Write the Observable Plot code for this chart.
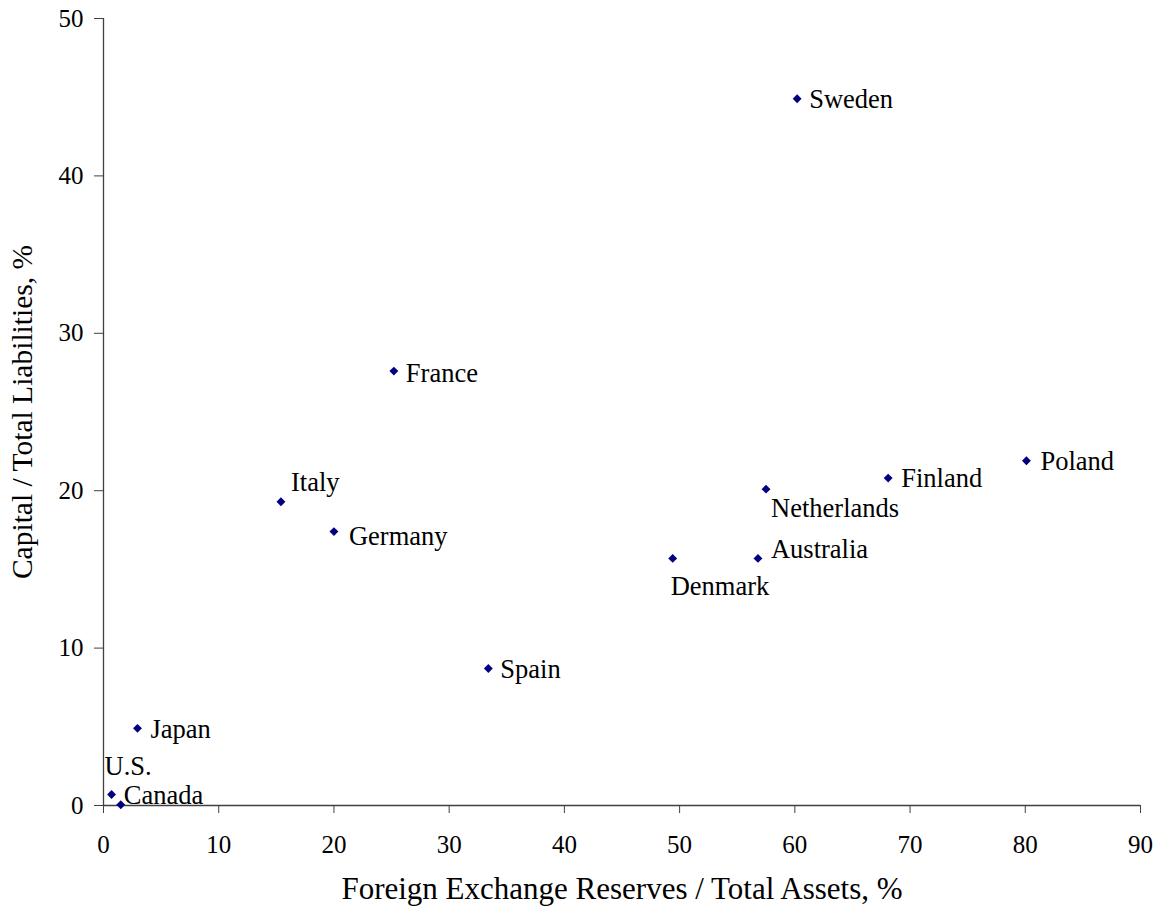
<!DOCTYPE html>
<html>
<head>
<meta charset="utf-8">
<script src="https://cdn.jsdelivr.net/npm/d3@7"></script>
<script src="https://cdn.jsdelivr.net/npm/@observablehq/plot@0.6"></script>
<style>
  html, body { margin: 0; padding: 0; background: #fff; }
  #chart svg { display: block; }
</style>
</head>
<body>
<div id="chart"></div>
<script>
const countries = ["Sweden", "France", "Italy", "Germany", "Spain", "Japan", "U.S.", "Canada", "Denmark", "Australia", "Netherlands", "Finland", "Poland"];
const fxReserves = [60.2, 25.2, 15.4, 20.0, 33.4, 2.95, 0.7, 1.5, 49.4, 56.8, 57.5, 68.1, 80.1];
const capital = [44.9, 27.6, 19.3, 17.4, 8.7, 4.9, 0.7, 0.05, 15.7, 15.7, 20.1, 20.8, 21.9];
const xTicks = [0, 10, 20, 30, 40, 50, 60, 70, 80, 90];
const yTicks = [0, 10, 20, 30, 40, 50];
const xTitle = "Foreign Exchange Reserves / Total Assets, %";
const yTitle = "Capital / Total Liabilities, %";

const data = countries.map((c, i) => ({country: c, x: fxReserves[i], y: capital[i]}));

// label placement (style config, mimics the original manual label positions)
const labelOffsets = {
  "Sweden": [12, 1], "France": [12, 2], "Italy": [10, -19], "Germany": [15, 5],
  "Spain": [12, 1], "Japan": [13, 1], "U.S.": [-7, -28], "Canada": [3, -9],
  "Denmark": [-2, 28], "Australia": [13, -9], "Netherlands": [5, 19],
  "Finland": [13, 0], "Poland": [14, 1]
};

const font = "'Liberation Serif', 'Times New Roman', serif";
const axisColor = "#404040";

const labelMarks = data.map(d => Plot.text([d], {
  x: "x", y: "y", text: "country",
  textAnchor: "start",
  dx: labelOffsets[d.country][0], dy: labelOffsets[d.country][1],
  fill: "#000", fontSize: 26.5
}));

const chart = Plot.plot({
  width: 1167,
  height: 920,
  marginLeft: 103,
  marginRight: 27,
  marginTop: 18,
  marginBottom: 115,
  style: {fontFamily: font, fontSize: "25px", color: "#000", background: "#fff"},
  x: {domain: [0, 90], ticks: xTicks},
  y: {domain: [0, 50], ticks: yTicks},
  marks: [
    Plot.axisX({
      ticks: xTicks, tickSize: 8, tickPadding: 22, stroke: axisColor, fill: "#000",
      fontSize: 25, label: null
    }),
    Plot.axisY({
      ticks: yTicks, tickSize: 9, tickPadding: 11, stroke: axisColor, fill: "#000",
      fontSize: 25, label: null
    }),
    Plot.text([xTitle], {frameAnchor: "bottom", textAnchor: "middle", dy: 93, fontSize: 31, fill: "#000"}),
    Plot.text([yTitle], {frameAnchor: "left", textAnchor: "middle", rotate: -90, dx: -81, fontSize: 29.5, fill: "#000"}),
    Plot.ruleX([0], {stroke: axisColor, strokeWidth: 1.3}),
    Plot.ruleY([0], {stroke: axisColor, strokeWidth: 1.3}),
    Plot.dot(data, {x: "x", y: "y", symbol: "diamond2", r: 4, fill: "#000080", stroke: "none"}),
    ...labelMarks
  ]
});

document.getElementById("chart").appendChild(chart);
</script>
</body>
</html>
